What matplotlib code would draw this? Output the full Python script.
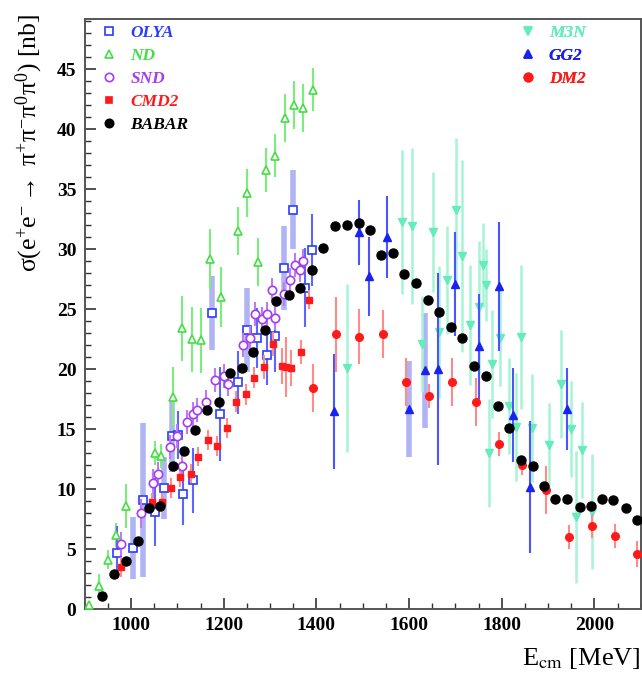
import matplotlib
matplotlib.use("Agg")
import matplotlib.pyplot as plt
from matplotlib.lines import Line2D
from matplotlib.ticker import MultipleLocator

# Data: e+e- -> pi+ pi- pi0 pi0 cross section [nb] vs E_cm [MeV]
babar_E = [938, 963, 989, 1014, 1039, 1063, 1090, 1115, 1138, 1163, 1190, 1214, 1239, 1263,
           1288, 1312, 1340, 1365, 1390, 1415, 1440, 1465, 1491, 1515, 1540, 1565, 1590, 1615,
           1640, 1665, 1690, 1715, 1741, 1766, 1791, 1815, 1841, 1867, 1892, 1916, 1941, 1968,
           1992, 2017, 2041, 2068, 2091]
babar_s = [1.1, 2.9, 4.0, 5.7, 8.4, 8.6, 11.9, 13.2, 14.9, 16.6, 17.3, 19.7, 20.1, 21.4,
           23.3, 25.7, 26.2, 26.8, 28.3, 30.1, 31.9, 32.0, 32.2, 31.6, 29.5, 29.7, 27.9, 27.2,
           25.8, 24.8, 23.5, 22.6, 20.3, 19.4, 16.9, 15.1, 12.4, 11.9, 10.3, 9.2, 9.2, 8.5,
           8.6, 9.2, 9.1, 8.4, 7.4]
babar_err = [0.3] * len(babar_E)

nd_E = [910, 930, 950, 968, 990, 1051, 1065, 1091, 1110, 1131, 1151, 1170, 1194, 1231, 1250,
        1274, 1291, 1311, 1332, 1352, 1372, 1392]
nd_s = [0.3, 1.9, 4.1, 6.2, 8.6, 13.0, 12.8, 17.7, 23.4, 22.5, 22.4, 29.2, 26.0, 31.5, 34.7,
        28.9, 36.6, 37.8, 40.9, 42.0, 41.8, 43.3]
nd_err = [0.3, 1.0, 0.8, 1.0, 1.8, 1.0, 1.0, 2.5, 2.7, 2.7, 2.7, 2.5, 2.5, 2.0, 2.0,
          2.0, 1.8, 1.8, 2.0, 2.0, 2.0, 1.8]

olya1_E = [970, 1051, 1102, 1113, 1134, 1192, 1231, 1271, 1293, 1311, 1376, 1391]
olya1_s = [4.7, 8.1, 14.5, 9.6, 10.75, 16.25, 18.9, 22.6, 21.2, 22.8, 26.8, 29.9]
olya1_err = [2.2, 2.8, 2.0, 2.6, 2.7, 3.9, 2.6, 2.5, 2.5, 3.0, 3.3, 3.0]
olya2_E = [1004, 1025, 1071, 1088, 1174, 1250, 1331, 1350]
olya2_s = [5.1, 9.1, 10.1, 14.4, 24.7, 23.3, 28.4, 33.3]
olya2_err = [2.6, 6.4, 2.6, 3.0, 3.1, 3.5, 3.5, 3.3]

snd_E = [979, 1021, 1048, 1058, 1084, 1100, 1109, 1121, 1134, 1143, 1162, 1181, 1201, 1210,
         1242, 1257, 1268, 1282, 1293, 1304, 1311, 1329, 1343, 1354, 1365, 1372]
snd_s = [5.4, 8.0, 10.5, 11.3, 13.5, 14.4, 11.9, 15.6, 16.3, 16.6, 17.3, 19.1, 19.4, 18.8,
         22.0, 22.6, 24.6, 24.2, 24.6, 26.6, 24.3, 26.3, 27.4, 28.7, 28.25, 29.0]
snd_err = [1.0, 1.2, 1.2, 1.0, 1.0, 1.0, 1.2, 1.0, 1.0, 1.0, 1.0, 1.0, 1.0, 1.0,
           1.0, 1.0, 1.0, 1.0, 1.0, 1.0, 1.0, 1.0, 1.0, 1.0, 1.0, 1.0]

cmd2_E = [979, 1046, 1066, 1086, 1105, 1129, 1144, 1165, 1186, 1206, 1226, 1247, 1266, 1286,
          1307, 1325, 1335, 1345, 1366, 1383]
cmd2_s = [3.5, 8.9, 8.9, 10.1, 11.0, 11.3, 12.7, 14.1, 13.6, 15.1, 17.3, 17.9, 19.3, 20.2,
          22.1, 20.3, 20.2, 20.1, 21.4, 25.8]
cmd2_err = [0.8, 0.8, 0.8, 0.8, 0.8, 0.8, 0.8, 0.8, 0.8, 0.8, 0.9, 0.9, 0.9, 1.0,
            1.0, 1.5, 2.5, 1.5, 1.0, 0.8]

dm2_E = [1392, 1443, 1491, 1543, 1593, 1644, 1693, 1745, 1794, 1844, 1895, 1945, 1994, 2044, 2093]
dm2_s = [18.4, 22.9, 22.7, 22.9, 18.9, 17.8, 18.9, 17.3, 13.8, 12.0, 9.9, 6.0, 6.9, 6.1, 4.6]
dm2_err = [2.0, 3.1, 2.3, 2.0, 2.0, 1.0, 2.0, 2.0, 1.0, 0.8, 2.0, 1.0, 1.0, 1.0, 1.1]

gg2_E = [1439, 1491, 1514, 1552, 1663, 1700, 1752, 1794, 1824, 1860, 1941]
gg2_s = [16.5, 31.4, 27.75, 31.0, 20.0, 27.1, 21.9, 26.9, 16.2, 10.2, 16.7]
gg2_err = [4.8, 2.7, 3.3, 3.4, 8.0, 4.3, 4.4, 5.4, 3.9, 5.5, 3.4]
gg2w_E = [1599, 1635]
gg2w_s = [16.7, 19.9]
gg2w_err = [4.0, 4.8]

m3n_E = [1466, 1585, 1606, 1628, 1652, 1665, 1682, 1702, 1714, 1732, 1752, 1760, 1767, 1772,
         1779, 1796, 1815, 1830, 1841, 1866, 1902, 1928, 1949, 1961, 1974, 1994]
m3n_s = [20.1, 32.3, 31.9, 22.1, 31.4, 23.1, 27.4, 33.3, 29.4, 23.7, 25.2, 28.7, 27.0, 13.0,
         20.4, 22.6, 16.9, 15.2, 22.7, 15.1, 13.7, 18.8, 15.0, 7.7, 13.25, 8.1]
m3n_err = [7.0, 6.0, 6.5, 4.0, 5.0, 5.5, 4.5, 6.0, 8.0, 5.0, 5.5, 3.5, 3.0, 4.5,
           4.5, 4.0, 4.0, 4.5, 6.0, 4.5, 3.5, 4.5, 4.0, 5.5, 4.0, 4.8]

plt.rcParams["font.family"] = ["Liberation Serif", "DejaVu Serif"]
plt.rcParams["mathtext.fontset"] = "stix"

fig = plt.figure(figsize=(6.42, 6.76), dpi=100)
ax = fig.add_axes([0.132, 0.099, 0.866, 0.873])

BLUE = "#2a3cff"
PALE = "#b0b4f4"
GREEN = "#44dd44"
VIOLET = "#a43cf0"
RED = "#ff1a1a"
MINT = "#66ecbc"

# pale / wide error bars first
ax.errorbar(olya2_E, olya2_s, yerr=olya2_err, fmt="s", ms=6, mfc="white", mec=BLUE, mew=1.2,
            ecolor=PALE, elinewidth=4, capsize=0, zorder=2)
ax.errorbar(gg2w_E, gg2w_s, yerr=gg2w_err, fmt="^", ms=6, color="#1a22ee",
            ecolor=PALE, elinewidth=4, capsize=0, zorder=2)
ax.errorbar(m3n_E, m3n_s, yerr=m3n_err, fmt="v", ms=6, color=MINT,
            ecolor="#a6f4d6", elinewidth=1.8, capsize=0, zorder=2)
ax.errorbar(nd_E, nd_s, yerr=nd_err, fmt="^", ms=6, mfc="white", mec=GREEN, mew=1.2,
            ecolor="#7aee7a", elinewidth=1.5, capsize=0, zorder=3)
ax.errorbar(olya1_E, olya1_s, yerr=olya1_err, fmt="s", ms=6, mfc="white", mec=BLUE, mew=1.2,
            ecolor="#5a66ff", elinewidth=1.5, capsize=0, zorder=3)
ax.errorbar(gg2_E, gg2_s, yerr=gg2_err, fmt="^", ms=6, color="#1a22ee",
            ecolor="#4a55ff", elinewidth=1.5, capsize=0, zorder=3)
ax.errorbar(snd_E, snd_s, yerr=snd_err, fmt="o", ms=6, mfc="white", mec=VIOLET, mew=1.2,
            ecolor="#c07af5", elinewidth=1.5, capsize=0, zorder=4)
ax.errorbar(cmd2_E, cmd2_s, yerr=cmd2_err, fmt="s", ms=5, color=RED,
            ecolor="#ff8a8a", elinewidth=1.5, capsize=0, zorder=4)
ax.errorbar(dm2_E, dm2_s, yerr=dm2_err, fmt="o", ms=5.5, color=RED,
            ecolor="#ff8a8a", elinewidth=1.5, capsize=0, zorder=4)
ax.errorbar(babar_E, babar_s, yerr=babar_err, fmt="o", ms=6.5, color="black",
            ecolor="#555555", elinewidth=1.2, capsize=0, zorder=5)

ax.set_xlim(900, 2100)
ax.set_ylim(0, 49.2)
ax.xaxis.set_major_locator(MultipleLocator(200))
ax.xaxis.set_minor_locator(MultipleLocator(50))
ax.yaxis.set_major_locator(MultipleLocator(5))
ax.yaxis.set_minor_locator(MultipleLocator(1))
ax.tick_params(which="both", direction="in", colors="#333333", labelcolor="black")
ax.tick_params(which="major", length=8, width=1.2, labelsize=14, pad=6)
ax.tick_params(which="minor", length=4, width=1.0)
for lab in ax.get_xticklabels() + ax.get_yticklabels():
    lab.set_fontweight("bold")
for sp in ax.spines.values():
    sp.set_color("#555555")
    sp.set_linewidth(1.4)

ax.set_xlabel(r"E$_{\rm cm}$ [MeV]", fontsize=19, loc="right", labelpad=8)
fig.text(0.045, 0.98,
         r"$\mathregular{\sigma(e^{+}e^{-} \rightarrow\ \pi^{+}\pi^{-}\pi^{0}\pi^{0})}$ [nb]",
         rotation=90, ha="center", va="top", fontsize=18.5)

# Legends
def proxy(marker, color, filled, ms=6):
    return Line2D([], [], ls="none", marker=marker, ms=ms, mec=color,
                  mfc=color if filled else "white", mew=1.2)

left = [("OLYA", proxy("s", BLUE, False), BLUE),
        ("ND", proxy("^", GREEN, False), GREEN),
        ("SND", proxy("o", VIOLET, False), VIOLET),
        ("CMD2", proxy("s", RED, True, 5), RED),
        ("BABAR", proxy("o", "black", True), "black")]
right = [("M3N", proxy("v", MINT, True), MINT),
         ("GG2", proxy("^", "#1a22ee", True), "#1a22ee"),
         ("DM2", proxy("o", RED, True), RED)]

for items, anchor in [(left, (0.0, 1.017)), (right, (0.753, 1.017))]:
    leg = ax.legend([h for _, h, _ in items], [t for t, _, _ in items], loc="upper left",
                    bbox_to_anchor=anchor, frameon=False, handlelength=1.0, handletextpad=0.72,
                    labelspacing=0.395, prop={"weight": "bold", "style": "italic", "size": 12.5})
    for txt, (_, _, c) in zip(leg.get_texts(), items):
        txt.set_color(c)
    ax.add_artist(leg)

fig.savefig("out.png", dpi=100)
